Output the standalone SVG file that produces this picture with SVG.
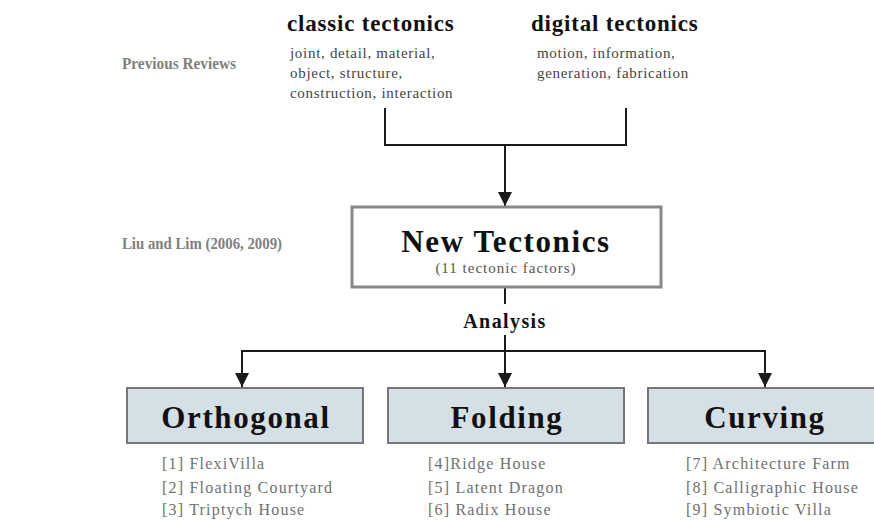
<svg xmlns="http://www.w3.org/2000/svg" width="874" height="520" viewBox="0 0 874 520">
<style>
.side{font-family:"Liberation Serif",serif;font-weight:bold;font-size:17px;fill:#808080}
.head{font-family:"Liberation Serif",serif;font-weight:bold;font-size:23px;fill:#111;letter-spacing:0.8px}
.sub{font-family:"Liberation Serif",serif;font-size:15px;fill:#444;letter-spacing:0.7px}
.title{font-family:"Liberation Serif",serif;font-weight:bold;font-size:31px;fill:#111;letter-spacing:1.6px;text-anchor:middle}
.small{font-family:"Liberation Serif",serif;font-size:15px;fill:#555;letter-spacing:1px;text-anchor:middle}
.item{font-family:"Liberation Serif",serif;font-size:16px;fill:#707070;letter-spacing:1.2px}
.ln{stroke:#1a1a1a;stroke-width:2;fill:none}
.box{fill:#fff;stroke:#888;stroke-width:3}
.cat{fill:#d5dfe6;stroke:#777;stroke-width:2}
</style>
<defs>
<marker id="ah" markerWidth="14" markerHeight="14" refX="14" refY="7" orient="auto" markerUnits="userSpaceOnUse">
<path d="M0,0 L14,7 L0,14 Z" fill="#1a1a1a"/>
</marker>
</defs>
<rect width="874" height="520" fill="#fff"/>
<text class="side" x="122" y="69" textLength="114" lengthAdjust="spacingAndGlyphs">Previous Reviews</text>
<text class="side" x="122" y="249" textLength="160" lengthAdjust="spacingAndGlyphs">Liu and Lim (2006, 2009)</text>
<g id="classic">
<text class="head" x="287" y="31">classic tectonics</text>
<text class="sub" x="290" y="58">joint, detail, material,</text>
<text class="sub" x="290" y="78">object, structure,</text>
<text class="sub" x="290" y="98">construction, interaction</text>
</g>
<g id="digital">
<text class="head" x="531" y="31">digital tectonics</text>
<text class="sub" x="537" y="58" letter-spacing="0.5">motion, information,</text>
<text class="sub" x="537" y="78" letter-spacing="0.5">generation, fabrication</text>
</g>
<g id="connectors">
<path class="ln" d="M385,108 V145 H626 V108"/>
<path class="ln" d="M505,145 V206" marker-end="url(#ah)"/>
<path class="ln" d="M505,288 V304"/>
<path class="ln" d="M505,335 V351"/>
<path class="ln" d="M242,351 H765"/>
<path class="ln" d="M242,350 V387" marker-end="url(#ah)"/>
<path class="ln" d="M505,350 V387" marker-end="url(#ah)"/>
<path class="ln" d="M765,350 V387" marker-end="url(#ah)"/>
</g>
<g id="newtectonics">
<rect class="box" x="352" y="207" width="309" height="80"/>
<text class="title" x="506" y="252">New Tectonics</text>
<text class="small" x="506" y="273">(11 tectonic factors)</text>
</g>
<text x="505" y="328" font-family="Liberation Serif, serif" font-weight="bold" font-size="20" fill="#111" letter-spacing="1.4" text-anchor="middle">Analysis</text>
<g id="orthogonal">
<rect class="cat" x="127" y="388" width="236" height="55"/>
<text class="title" x="246" y="428">Orthogonal</text>
<text class="item" x="162" y="469">[1] FlexiVilla</text>
<text class="item" x="162" y="493">[2] Floating Courtyard</text>
<text class="item" x="162" y="515">[3] Triptych House</text>
</g>
<g id="folding">
<rect class="cat" x="388" y="388" width="236" height="55"/>
<text class="title" x="507" y="428">Folding</text>
<text class="item" x="428" y="469" letter-spacing="0.8">[4]Ridge House</text>
<text class="item" x="428" y="493">[5] Latent Dragon</text>
<text class="item" x="428" y="515">[6] Radix House</text>
</g>
<g id="curving">
<rect class="cat" x="648" y="388" width="236" height="55"/>
<text class="title" x="765" y="428">Curving</text>
<text class="item" x="686" y="469" letter-spacing="1.5">[7] Architecture Farm</text>
<text class="item" x="686" y="493" letter-spacing="1.5">[8] Calligraphic House</text>
<text class="item" x="686" y="515" letter-spacing="1.5">[9] Symbiotic Villa</text>
</g>
</svg>
